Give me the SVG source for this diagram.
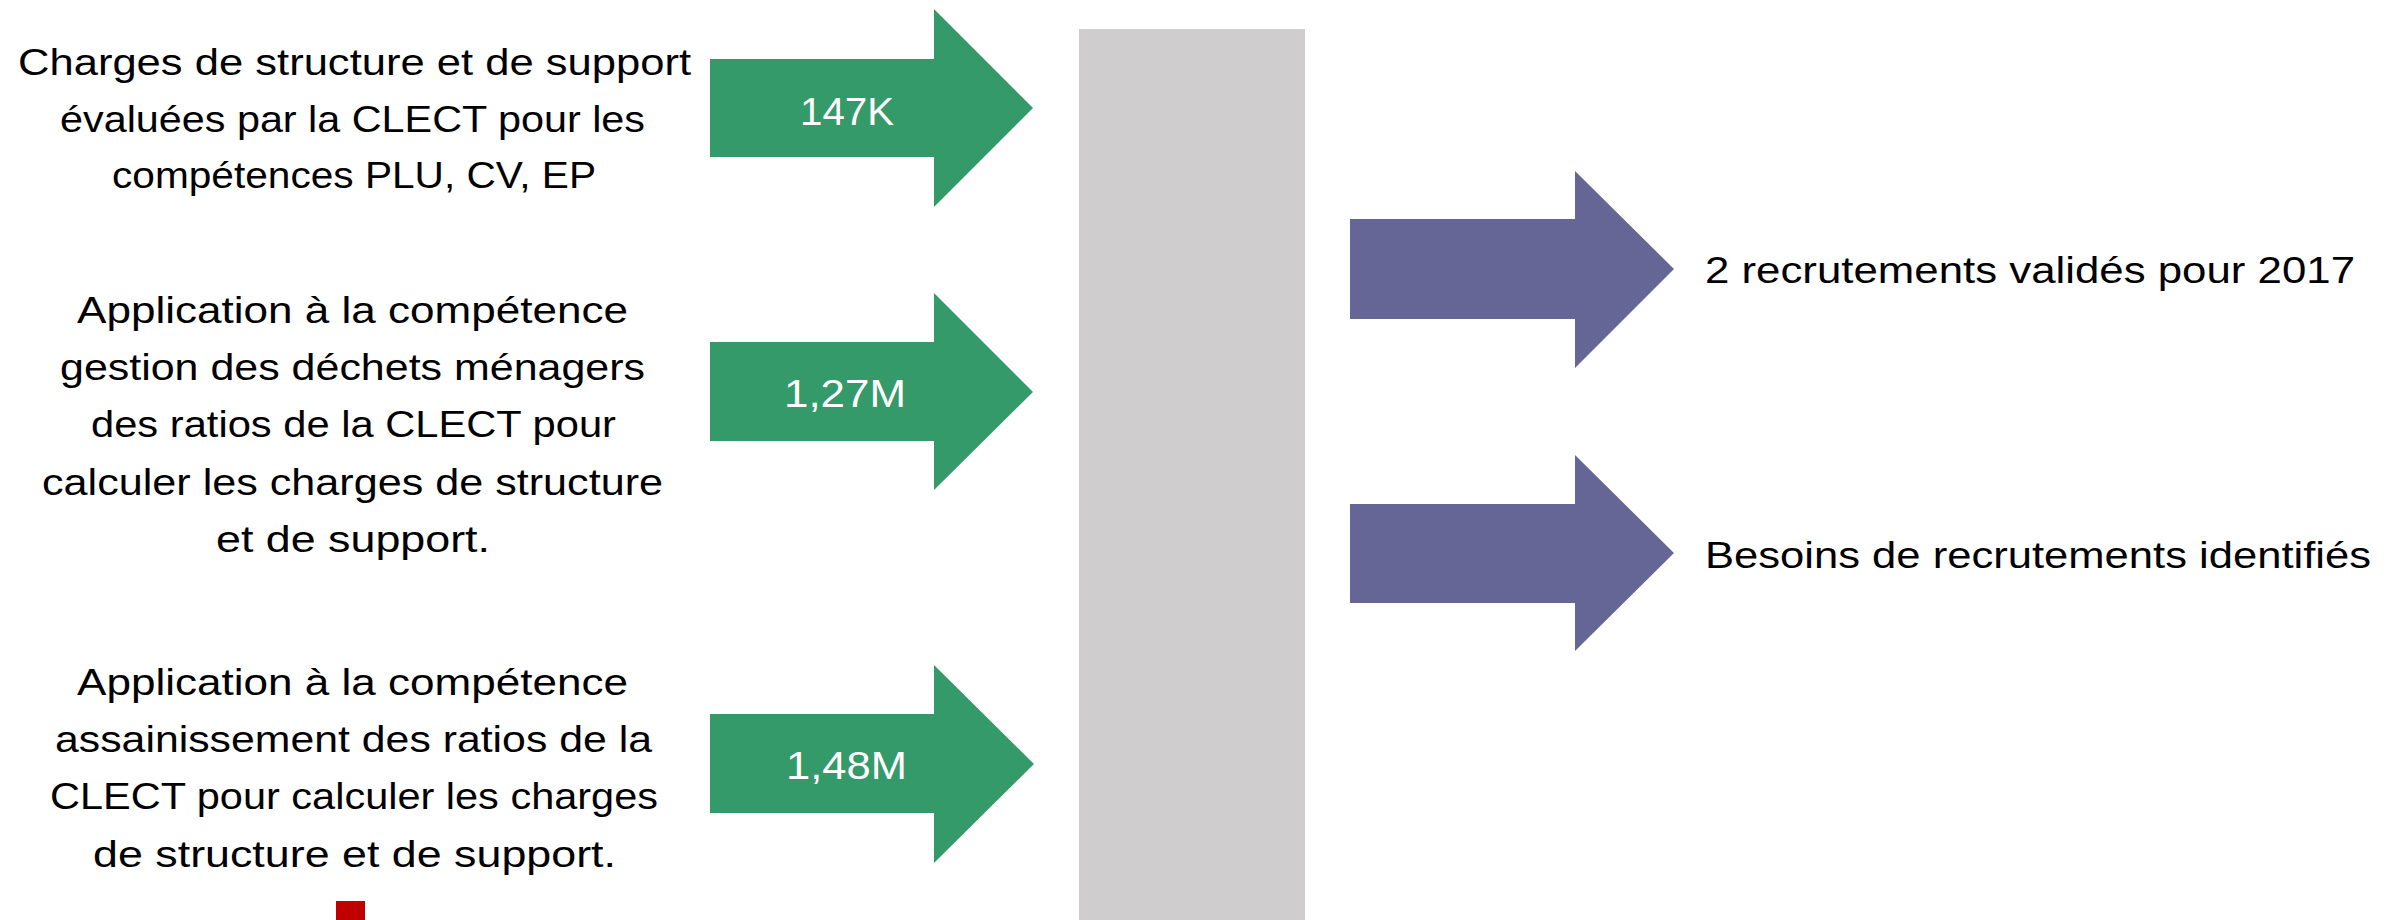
<svg xmlns="http://www.w3.org/2000/svg" width="2385" height="920" viewBox="0 0 2385 920">
<style>
text{font-family:"Liberation Sans",Arial,sans-serif;font-size:37px;fill:#000}
.num{fill:#fff;font-size:39px}
.g{fill:#359A69}
.p{fill:#656596}
</style>
<rect width="2385" height="920" fill="#fff"/>
<g id="bar"><rect x="1079" y="29" width="226" height="891" fill="#CFCDCE"/></g>
<g id="marker-red"><rect x="336" y="901" width="29" height="19" fill="#C00000"/></g>
<g id="text1">
<text x="18" y="75" textLength="673" lengthAdjust="spacingAndGlyphs">Charges de structure et de support</text>
<text x="60" y="132" textLength="585" lengthAdjust="spacingAndGlyphs">évaluées par la CLECT pour les</text>
<text x="112" y="188" textLength="484" lengthAdjust="spacingAndGlyphs">compétences PLU, CV, EP</text>
</g>
<g id="text2">
<text x="77" y="323" textLength="551" lengthAdjust="spacingAndGlyphs">Application à la compétence</text>
<text x="60" y="380" textLength="585" lengthAdjust="spacingAndGlyphs">gestion des déchets ménagers</text>
<text x="91" y="437" textLength="525" lengthAdjust="spacingAndGlyphs">des ratios de la CLECT pour</text>
<text x="42" y="495" textLength="621" lengthAdjust="spacingAndGlyphs">calculer les charges de structure</text>
<text x="216" y="552" textLength="274" lengthAdjust="spacingAndGlyphs">et de support.</text>
</g>
<g id="text3">
<text x="77" y="695" textLength="551" lengthAdjust="spacingAndGlyphs">Application à la compétence</text>
<text x="55" y="752" textLength="597" lengthAdjust="spacingAndGlyphs">assainissement des ratios de la</text>
<text x="50" y="809" textLength="608" lengthAdjust="spacingAndGlyphs">CLECT pour calculer les charges</text>
<text x="93" y="867" textLength="523" lengthAdjust="spacingAndGlyphs">de structure et de support.</text>
</g>
<g id="arrow1">
<path class="g" d="M710,59 H934 V9 L1033,108 L934,207 V157 H710 Z"/>
<text class="num" x="800" y="125" textLength="94" lengthAdjust="spacingAndGlyphs">147K</text>
</g>
<g id="arrow2">
<path class="g" d="M710,342 H934 V293 L1033,392 L934,490 V441 H710 Z"/>
<text class="num" x="784" y="407" textLength="122" lengthAdjust="spacingAndGlyphs">1,27M</text>
</g>
<g id="arrow3">
<path class="g" d="M710,714 H934 V665 L1034,764 L934,863 V813 H710 Z"/>
<text class="num" x="786" y="779" textLength="121" lengthAdjust="spacingAndGlyphs">1,48M</text>
</g>
<g id="out1">
<path class="p" d="M1350,219 H1575 V171 L1674,269 L1575,368 V319 H1350 Z"/>
<text x="1705" y="283" textLength="650" lengthAdjust="spacingAndGlyphs">2 recrutements validés pour 2017</text>
</g>
<g id="out2">
<path class="p" d="M1350,504 H1575 V455 L1674,553 L1575,651 V603 H1350 Z"/>
<text x="1705" y="568" textLength="666" lengthAdjust="spacingAndGlyphs">Besoins de recrutements identifiés</text>
</g>
<g id="connectors"/>
</svg>
